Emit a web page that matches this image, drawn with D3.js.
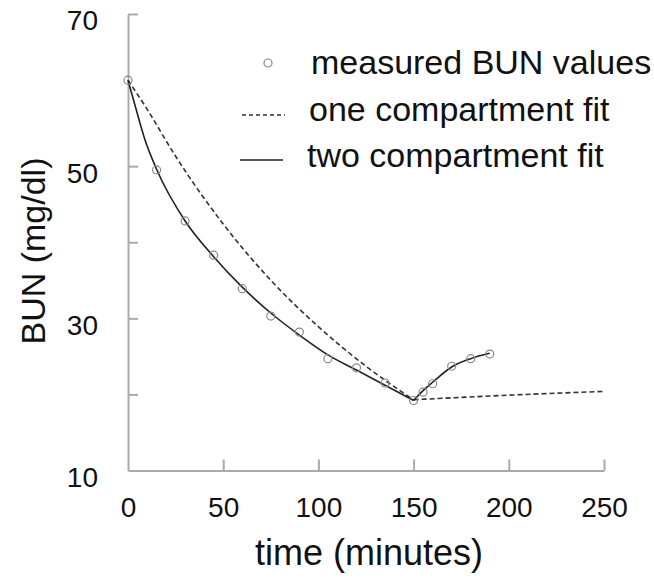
<!DOCTYPE html>
<html>
<head>
<meta charset="utf-8">
<script src="https://cdn.jsdelivr.net/npm/d3@7"></script>
<style>
    body { margin: 0; background: #fff; }
    text { font-family: "Liberation Sans", Arial, Helvetica, sans-serif; fill: #111; }
</style>
</head>
<body>
<script>
// measured points
const measuredTime = [0, 15, 30, 45, 60, 75, 90, 105, 120, 135, 150, 155, 160, 170, 180, 190];
const measuredBun = [61.3, 49.5, 42.8, 38.3, 33.9, 30.3, 28.2, 24.7, 23.5, 21.5, 19.2, 20.3, 21.4, 23.7, 24.7, 25.3];

// two compartment fit
const twoDecayTime = [0, 4, 9, 15, 30, 45, 60, 75, 90, 105, 120, 135, 150];
const twoDecayBun = [61.3, 57.7, 53.4, 49.6, 42.8, 38.1, 34.1, 30.7, 27.8, 25.2, 23.2, 21.2, 19.2];
const twoReboundTime = [150, 155, 160, 170, 180, 190];
const twoReboundBun = [19.2, 20.5, 21.6, 23.6, 24.7, 25.4];

// one compartment fit
const oneDecayTime = [0, 10, 25, 50, 75, 100, 125, 150];
const oneDecayBun = [61.3, 57.5, 51.3, 42.4, 35.0, 28.9, 23.7, 19.3];
const onePostTime = [150, 200, 250];
const onePostBun = [19.3, 19.9, 20.4];

const xTicks = [0, 50, 100, 150, 200, 250];
const yTicks = [10, 20, 30, 40, 50, 70];
const yLabels = [10, 30, 50, 70];

const legendLabels = ["measured BUN values", "one compartment fit", "two compartment fit"];

const width = 654;
const height = 579;

const svg = d3
    .select("body")
    .append("svg")
    .attr("width", width)
    .attr("height", height);

const x = d3.scaleLinear().domain([0, 250]).range([128, 604]);
const y = d3.scaleLinear().domain([10, 70]).range([470.5, 14]);

const zip = (ts, vs) => ts.map((t, i) => ({ t: t, v: vs[i] }));

// axes
const xAxis = svg
    .append("g")
    .attr("transform", `translate(0, ${y(10)})`)
    .call(d3.axisBottom(x).tickValues(xTicks).tickSize(-11).tickSizeOuter(0).tickPadding(27));

const yAxis = svg
    .append("g")
    .attr("transform", `translate(${x(0)}, 0)`)
    .call(
        d3.axisLeft(y)
            .tickValues(yTicks)
            .tickSize(-10)
            .tickSizeOuter(0)
            .tickPadding(30)
            .tickFormat((d) => (yLabels.includes(d) ? d : ""))
    );

svg.selectAll(".domain, .tick line").attr("stroke", "#aaa").attr("stroke-width", 2);
svg.selectAll(".tick text").attr("font-size", 28).attr("fill", "#111");
yAxis.selectAll(".tick text").attr("y", 7);
// hide the tick that sits on the other axis
xAxis.selectAll(".tick line").filter((d) => d === 0).remove();
yAxis.selectAll(".tick line").filter((d) => d === 10).remove();

// axis titles
svg.append("text")
    .attr("x", 369)
    .attr("y", 565)
    .attr("text-anchor", "middle")
    .attr("font-size", 36)
    .text("time (minutes)");

svg.append("text")
    .attr("transform", "translate(45, 251) rotate(-90)")
    .attr("text-anchor", "middle")
    .attr("font-size", 34)
    .text("BUN (mg/dl)");

// curves
const line = d3
    .line()
    .x((d) => x(d.t))
    .y((d) => y(d.v))
    .curve(d3.curveMonotoneX);

[zip(oneDecayTime, oneDecayBun), zip(onePostTime, onePostBun)].forEach((seg) => {
    svg.append("path")
        .datum(seg)
        .attr("d", line)
        .attr("fill", "none")
        .attr("stroke", "#333")
        .attr("stroke-width", 1.6)
        .attr("stroke-dasharray", "5,3");
});

[zip(twoDecayTime, twoDecayBun), zip(twoReboundTime, twoReboundBun)].forEach((seg) => {
    svg.append("path")
        .datum(seg)
        .attr("d", line)
        .attr("fill", "none")
        .attr("stroke", "#222")
        .attr("stroke-width", 1.6);
});

// measured points
svg.selectAll(".point")
    .data(zip(measuredTime, measuredBun))
    .enter()
    .append("circle")
    .attr("class", "point")
    .attr("cx", (d) => x(d.t))
    .attr("cy", (d) => y(d.v))
    .attr("r", 4)
    .attr("fill", "none")
    .attr("stroke", "#888")
    .attr("stroke-width", 1.2);

// legend
const legend = svg.append("g");

legend.append("circle")
    .attr("cx", 268)
    .attr("cy", 63)
    .attr("r", 4)
    .attr("fill", "none")
    .attr("stroke", "#888")
    .attr("stroke-width", 1.2);

legend.append("line")
    .attr("x1", 242).attr("x2", 285)
    .attr("y1", 115).attr("y2", 115)
    .attr("stroke", "#333")
    .attr("stroke-width", 1.6)
    .attr("stroke-dasharray", "4,3");

legend.append("line")
    .attr("x1", 240).attr("x2", 283)
    .attr("y1", 160).attr("y2", 160)
    .attr("stroke", "#222")
    .attr("stroke-width", 1.6);

legend.selectAll(".legend-text")
    .data(legendLabels)
    .enter()
    .append("text")
    .attr("class", "legend-text")
    .attr("x", (d, i) => [311, 309, 307][i])
    .attr("y", (d, i) => [74, 121, 167][i])
    .attr("font-size", 34)
    .text((d) => d);
</script>
</body>
</html>
